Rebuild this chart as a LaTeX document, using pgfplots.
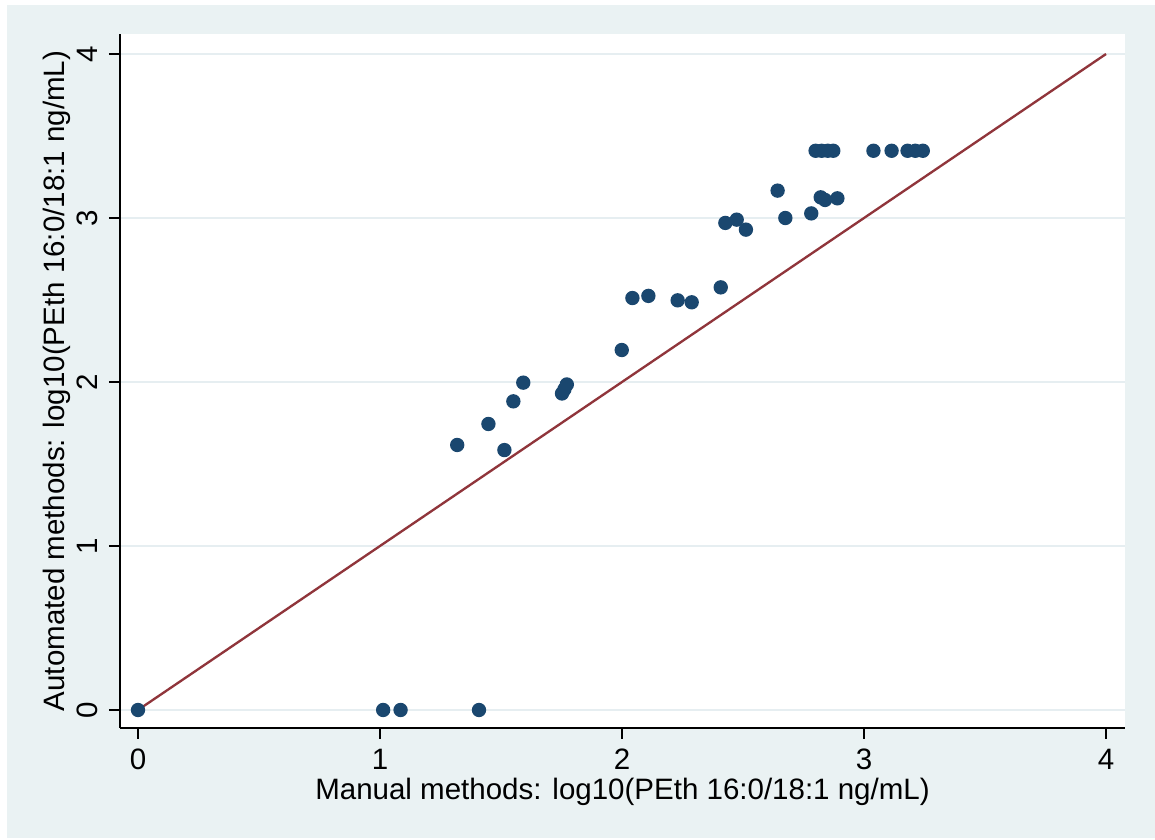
\documentclass[border=0pt]{standalone}
\usepackage{fontspec}
\setmainfont{Liberation Sans}
\usepackage{pgfplots}
\pgfplotsset{compat=1.18}

\definecolor{stbg}{RGB}{234,242,243}
\definecolor{stgrid}{RGB}{230,238,241}
\definecolor{stnavy}{RGB}{26,71,111}
\definecolor{stmaroon}{RGB}{144,53,59}

\newcommand{\lblfont}{\fontsize{8.85pt}{10.6pt}\selectfont}

\begin{document}
\begin{tikzpicture}[x=0.3pt,y=0.3pt]
% page and graph region (pixel units of the reference)
\fill[white] (0,0) rectangle (1155,840);
\fill[stbg] (7,2) rectangle (1155,835);

\begin{axis}[
    at={(36pt,33.6pt)}, anchor=south west,
    scale only axis,
    width=301.5pt, height=208.2pt,
    xmin=-0.0744, xmax=4.0785,
    ymin=-0.1098, ymax=4.122,
    axis x line*=bottom, axis y line*=left,
    axis line style={black, line width=0.6pt, -},
    axis background/.style={fill=white},
    xtick={0,1,2,3,4}, ytick={0,1,2,3,4},
    tick align=outside,
    major tick length=3.3pt,
    tick style={black, line width=0.6pt},
    ymajorgrids=true,
    major grid style={stgrid, line width=0.6pt},
    /pgf/number format/assume math mode=true,
    ticklabel style={font=\lblfont},
    xticklabel style={anchor=base, yshift=-9.3pt},
    yticklabel style={rotate=90, anchor=base, yshift=3.3pt},
    xlabel={Manual methods: log10(PEth 16:0/18:1 ng/mL)},
    ylabel={Automated methods: log10(PEth 16:0/18:1 ng/mL)},
    xlabel style={font=\lblfont, at={(axis description cs:0.5,0)}, anchor=base, yshift=-21.6pt},
    ylabel style={font=\lblfont, at={(axis description cs:-0.0548,0.5)}, anchor=base},
]

% line of equality
\addplot[stmaroon, line width=0.7pt] coordinates {(0,0) (4,4)};

% manual vs automated
\addplot[only marks, mark=*, mark size=1.95pt, mark options={draw=stnavy, fill=stnavy}]
coordinates {
(0,0) (1.013,0) (1.085,0) (1.409,0)
(1.319,1.616) (1.448,1.744) (1.514,1.585) (1.551,1.882) (1.592,1.996)
(1.752,1.930) (1.762,1.955) (1.772,1.985)
(1.999,2.195) (2.043,2.512) (2.109,2.525) (2.230,2.498) (2.288,2.486)
(2.408,2.577) (2.427,2.970) (2.474,2.990) (2.512,2.929)
(2.643,3.167) (2.675,3.000) (2.782,3.028) (2.821,3.126) (2.839,3.110) (2.890,3.120)
(2.800,3.410) (2.825,3.410) (2.850,3.410) (2.873,3.410)
(3.039,3.410) (3.114,3.410) (3.180,3.410) (3.212,3.410) (3.243,3.410)
};
\end{axis}
\end{tikzpicture}
\end{document}
